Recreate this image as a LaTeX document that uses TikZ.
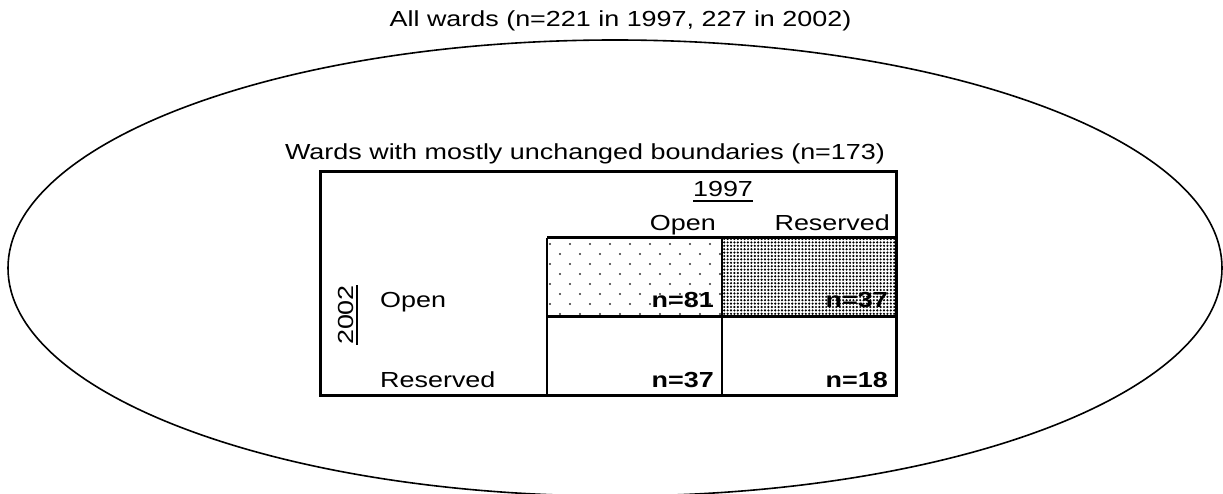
\documentclass[tikz,border=0pt]{standalone}
\usepackage{fontspec}
\setmainfont{Liberation Sans}
\usetikzlibrary{patterns.meta}
\newcommand\hs[1]{\scalebox{1.235}[1]{#1}}
\newcommand\ulx[1]{\setbox0\hbox{#1}\rlap{\rule[-4.8pt]{\wd0}{1.6pt}}\box0}
\begin{document}
\begin{tikzpicture}[x=1pt,y=-1pt,
  lbl/.style={inner sep=0pt, font=\fontsize{21.8}{24}\selectfont},
  val/.style={inner sep=0pt, font=\fontsize{21.8}{24}\selectfont\bfseries},
  heavyline/.style={line width=3pt},
  lightline/.style={line width=2pt},
  ring/.style={line width=1.6pt}]
\useasboundingbox (0,0) rectangle (1223,494);
% outer ellipse
\draw[ring] (615,268) ellipse [x radius=607, y radius=228];
% titles
\node[lbl, anchor=base] (all) at (620.5,27) {\hs{All wards (n=221 in 1997, 227 in 2002)}};
\node[lbl, anchor=base] (sub) at (585,160) {\hs{Wards with mostly unchanged boundaries (n=173)}};
% cell patterns
\path[pattern={Dots[distance=20pt,radius=1.1pt]}, pattern color=black!80] (547,238) rectangle (722,316);
\path[pattern={Dots[distance=20pt,radius=1.1pt,xshift=10pt,yshift=10pt]}, pattern color=black!80] (547,238) rectangle (722,316);
\path[pattern={Dots[distance=3.4pt,radius=1.2pt]}, pattern color=black] (722,238) rectangle (896,316);
% table lines
\draw[heavyline] (320,172) rectangle (896,395);
\draw[heavyline] (547,238) -- (896,238);
\draw[heavyline] (547,316) -- (896,316);
\draw[lightline] (547,238) -- (547,395);
\draw[lightline] (722,238) -- (722,395);
% headers
\node[lbl, anchor=base] (y1997) at (723,197) {\hs{\ulx{1997}}};
\node[lbl, anchor=base east] (colopen) at (716,231) {\hs{Open}};
\node[lbl, anchor=base east] (colres) at (890,231) {\hs{Reserved}};
\node[lbl, anchor=base, rotate=90] (y2002) at (353,315) {\hs{\ulx{2002}}};
\node[lbl, anchor=base west] (rowopen) at (380,307) {\hs{Open}};
\node[lbl, anchor=base west] (rowres) at (380,387) {\hs{Reserved}};
% values
\node[val, anchor=base east] (oo) at (714,307) {\hs{n=81}};
\node[val, anchor=base east] (ro) at (888,307) {\hs{n=37}};
\node[val, anchor=base east] (or) at (714,387) {\hs{n=37}};
\node[val, anchor=base east] (rr) at (888,387) {\hs{n=18}};
\end{tikzpicture}
\end{document}
